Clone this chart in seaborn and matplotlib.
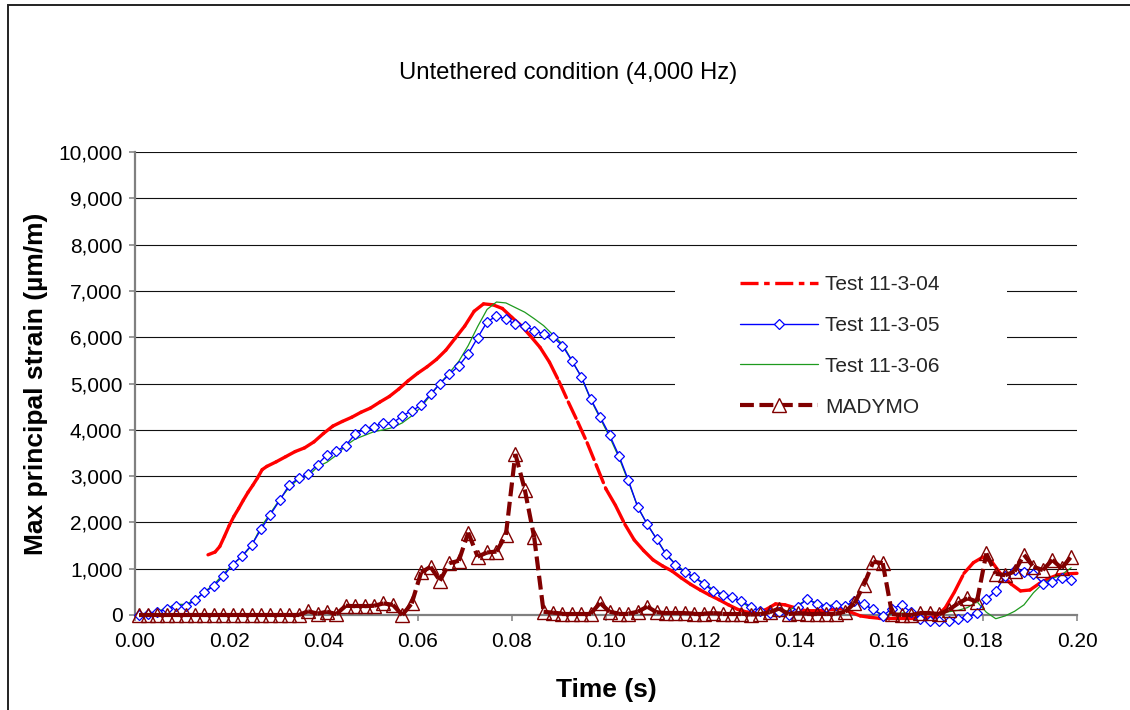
import numpy as np
import pandas as pd
import matplotlib
matplotlib.use("Agg")
import matplotlib.pyplot as plt
import seaborn as sns
from matplotlib.collections import LineCollection
from matplotlib.lines import Line2D
from matplotlib.patches import Rectangle
from matplotlib.ticker import FuncFormatter

# ---------------- data ----------------
title = "Untethered condition (4,000 Hz)"
x_label = "Time (s)"
y_label = "Max principal strain (\u00b5m/m)"
series_names = ["Test 11-3-04", "Test 11-3-05", "Test 11-3-06", "MADYMO"]

# sample times (s) of the marked series: every 0.002 s, first sample at 0.00075 s
time_grid = [round(0.00075 + 0.002 * k, 5) for k in range(100)]

test05 = [0, 20, 70, 120, 190, 190, 320, 490, 630, 840,
          1090, 1280, 1510, 1850, 2170, 2480, 2810, 2950, 3050, 3250,
          3460, 3540, 3660, 3910, 4010, 4070, 4150, 4150, 4300, 4410,
          4530, 4770, 5000, 5200, 5380, 5640, 5990, 6330, 6460, 6390,
          6280, 6250, 6140, 6070, 6000, 5820, 5490, 5150, 4670, 4280,
          3890, 3440, 2910, 2330, 1960, 1640, 1310, 1090, 920, 810,
          670, 520, 430, 380, 300, 180, 90, 40, 70, 0,
          180, 350, 230, 170, 220, 190, 300, 230, 120, -20,
          140, 220, 60, -80, -130, -140, -120, -80, -40, 40,
          340, 520, 840, 970, 920, 890, 680, 720, 790, 760]

test06 = [0, 30, 80, 150, 230, 230, 330, 500, 660, 880,
          1100, 1260, 1500, 1900, 2200, 2500, 2760, 2940, 3000, 3200,
          3300, 3450, 3660, 3800, 3880, 3960, 4000, 4050, 4150, 4300,
          4490, 4750, 5000, 5230, 5480, 5820, 6230, 6600, 6760, 6740,
          6640, 6540, 6400, 6250, 6050, 5850, 5500, 5140, 4650, 4250,
          3850, 3400, 2880, 2330, 1960, 1640, 1320, 1100, 940, 820,
          690, 550, 450, 380, 270, 160, 80, 60, 70, 90,
          220, 330, 260, 200, 220, 200, 280, 220, 120, 0,
          20, 40, 50, 40, 40, 50, 70, 100, 160, 290,
          60, -80, -20, 80, 220, 480, 680, 790, 870, 1020]

madymo = [0, 0, 0, 0, 0, 0, 0, 0, 0, 0,
          0, 0, 0, 0, 0, 0, 0, 0, 80, 30,
          70, 20, 200, 190, 190, 200, 250, 220, 0, 250,
          920, 1040, 740, 1120, 1170, 1780, 1260, 1350, 1370, 1730,
          3480, 2710, 1680, 70, 50, 30, 30, 30, 30, 260,
          70, 30, 30, 70, 180, 60, 40, 40, 40, 30,
          30, 40, 30, 30, 30, 10, 20, 60, 140, 20,
          40, 30, 30, 20, 30, 70, 250, 650, 1150, 1120,
          20, 0, 0, 40, 40, 20, 110, 250, 360, 290,
          1330, 890, 860, 940, 1300, 1040, 970, 1190, 1010, 1260]

# Test 11-3-04 (no markers) starts at about 0.0155 s
test04_time = [0.0155, 0.017, 0.018, 0.019, 0.020, 0.021, 0.022, 0.023, 0.024, 0.025,
               0.026, 0.027, 0.028, 0.030, 0.032, 0.034, 0.036, 0.038, 0.040, 0.042,
               0.044, 0.046, 0.048, 0.050, 0.052, 0.054, 0.056, 0.058, 0.060, 0.062,
               0.064, 0.066, 0.068, 0.070, 0.072, 0.074, 0.076, 0.078, 0.080, 0.082,
               0.084, 0.086, 0.088, 0.090, 0.092, 0.094, 0.096, 0.098, 0.100, 0.102,
               0.104, 0.106, 0.108, 0.110, 0.112, 0.114, 0.116, 0.118, 0.120, 0.122,
               0.124, 0.126, 0.128, 0.130, 0.132, 0.134, 0.136, 0.138, 0.140, 0.142,
               0.144, 0.146, 0.148, 0.150, 0.152, 0.154, 0.156, 0.158, 0.160, 0.162,
               0.164, 0.166, 0.168, 0.170, 0.172, 0.174, 0.176, 0.178, 0.180, 0.182,
               0.184, 0.186, 0.188, 0.190, 0.192, 0.194, 0.196, 0.198, 0.200]
test04 = [1300, 1360, 1480, 1700, 1930, 2130, 2300, 2480, 2650, 2800,
          2960, 3140, 3210, 3310, 3420, 3530, 3610, 3740, 3920, 4080,
          4180, 4270, 4380, 4470, 4600, 4720, 4880, 5060, 5220, 5360,
          5520, 5720, 5980, 6240, 6560, 6720, 6700, 6620, 6430, 6250,
          6020, 5780, 5460, 5050, 4600, 4170, 3720, 3220, 2720, 2370,
          1960, 1620, 1390, 1190, 1060, 950, 800, 660, 540, 430,
          330, 220, 120, 60, 50, 120, 240, 220, 160, 100,
          90, 100, 120, 140, 60, -20, -50, -70, -70, -70,
          -70, -70, -60, -40, 150, 500, 900, 1130, 1250, 1140,
          860, 670, 520, 540, 680, 790, 870, 890, 900]

x_ticks = [0.00, 0.02, 0.04, 0.06, 0.08, 0.10, 0.12, 0.14, 0.16, 0.18, 0.20]
y_ticks = [0, 1000, 2000, 3000, 4000, 5000, 6000, 7000, 8000, 9000, 10000]

assert len(test04) == len(test04_time)

# ---------------- style ----------------
plt.rcParams['lines.scale_dashes'] = False
sns.set_theme(style="white")
plt.rcParams['font.family'] = ['Liberation Sans', 'DejaVu Sans']

C_RED = '#FF0000'
C_BLUE = '#0000FF'
C_GREEN = '#1E9A1E'
C_MAD = '#800000'
RED_DASH = (13, 4, 4, 4)
MAD_DASH = (10, 4)

fig = plt.figure(figsize=(11.3, 7.1), dpi=100)
ax = fig.add_axes([135 / 1130, 95 / 710, 942 / 1130, 463 / 710])

# outer chart border (top and left edges fall inside the image)
fig.patches.append(Rectangle((8 / 1130, -0.05), 1.2, (705) / 710 + 0.05,
                             transform=fig.transFigure, fill=False, ec='#222222', lw=1.4))

ax.set_xlim(0, 0.2)
ax.set_ylim(0, 10000)
ax.set_axisbelow(True)
ax.yaxis.grid(True, color='#111111', lw=0.8, zorder=0)
ax.xaxis.grid(False)

# white box behind the legend (hides grid lines like the original)
ax.add_patch(Rectangle((0.573, 0.432), 0.353, 0.33, transform=ax.transAxes,
                       fc='white', ec='none', zorder=0.8))

# Test 11-3-04 : dash-dot line whose pattern restarts on each segment
seg04 = [[(test04_time[i], test04[i]), (test04_time[i + 1], test04[i + 1])]
         for i in range(len(test04) - 1)]
lc04 = LineCollection(seg04, colors=C_RED, linewidths=2.4, linestyles=[(0, RED_DASH)],
                      capstyle='round', zorder=3, clip_on=False)
ax.add_collection(lc04)

# Test 11-3-06
df06 = pd.DataFrame({'t': time_grid, 'v': test06})
sns.lineplot(data=df06, x='t', y='v', ax=ax, color=C_GREEN, lw=0.9, zorder=4,
             clip_on=False, sort=False, estimator=None)

# Test 11-3-05
df05 = pd.DataFrame({'t': time_grid, 'v': test05})
sns.lineplot(data=df05, x='t', y='v', ax=ax, color=C_BLUE, lw=1.0, marker='D', ms=5.5,
             mfc='white', mec=C_BLUE, mew=0.9, zorder=5, clip_on=False,
             sort=False, estimator=None)

# MADYMO : dashed line (pattern restarts per segment) + hollow triangles
segm = [[(time_grid[i], madymo[i]), (time_grid[i + 1], madymo[i + 1])]
        for i in range(len(madymo) - 1)]
lcm = LineCollection(segm, colors=C_MAD, linewidths=3.0, linestyles=[(0, MAD_DASH)],
                     capstyle='butt', zorder=6, clip_on=False)
ax.add_collection(lcm)
dfm = pd.DataFrame({'t': time_grid, 'v': madymo})
sns.lineplot(data=dfm, x='t', y='v', ax=ax, color=C_MAD, linestyle='', marker='^', ms=10,
             mfc='none', mec=C_MAD, mew=1.0, zorder=7, clip_on=False,
             sort=False, estimator=None)

# axes cosmetics
for s in ['top', 'right']:
    ax.spines[s].set_visible(False)
for s in ['left', 'bottom']:
    ax.spines[s].set_color('#808080')
    ax.spines[s].set_linewidth(1.6)
    ax.spines[s].set_zorder(2)

ax.set_xticks(x_ticks)
ax.set_yticks(y_ticks)
ax.xaxis.set_major_formatter(FuncFormatter(lambda v, p: f"{v:.2f}"))
ax.yaxis.set_major_formatter(FuncFormatter(lambda v, p: f"{int(round(v)):,}"))
ax.tick_params(axis='both', which='major', direction='out', length=4, width=1.1,
               color='#808080', labelsize=15, labelcolor='black', pad=5,
               bottom=True, left=True)
ax.tick_params(axis='x', pad=8.5)

ax.set_xlabel(x_label, fontsize=19, fontweight='bold', color='black')
ax.set_ylabel(y_label, fontsize=19, fontweight='bold', color='black')
ax.xaxis.set_label_coords(0.5, -0.136)
ax.yaxis.set_label_coords(-0.092, 0.5)

fig.text(0.503, (710 - 73) / 710, title, ha='center', va='center', fontsize=17.2,
         color='black')

# legend
handles = [
    Line2D([], [], color=C_RED, lw=2.4, dashes=RED_DASH),
    Line2D([], [], color=C_BLUE, lw=1.0, marker='D', ms=5.5, mfc='white', mec=C_BLUE, mew=0.9),
    Line2D([], [], color=C_GREEN, lw=0.9),
    Line2D([], [], color=C_MAD, lw=3.0, dashes=MAD_DASH, marker='^', ms=10, mfc='white',
           mec=C_MAD, mew=1.0),
]
leg = ax.legend(handles, series_names, loc='upper left',
                bbox_to_anchor=((740 - 135) / 942, (615 - 275) / 463),
                frameon=False, fontsize=15, handlelength=3.75, handletextpad=0.35,
                labelspacing=1.05, borderpad=0, borderaxespad=0, markerscale=1)
leg.set_zorder(10)

fig.savefig("out.png", dpi=100)
